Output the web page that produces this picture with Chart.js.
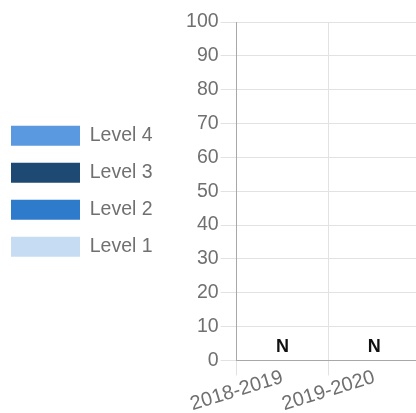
<!DOCTYPE html>
<html>
<head>
<meta charset="utf-8">
<script src="https://cdn.jsdelivr.net/npm/chart.js@4/dist/chart.umd.min.js"></script>
<style>
  html, body { margin: 0; padding: 0; background: #fff; overflow: hidden; }
  #wrap { position: relative; width: 420px; height: 413px; }
</style>
</head>
<body>
<div id="wrap"><canvas id="c"></canvas></div>
<script>
const categories = ['2018-2019', '2019-2020'];
const level1 = [null, null];
const level2 = [null, null];
const level3 = [null, null];
const level4 = [null, null];
const noteLabels = ['N', 'N'];
const yTicks = { min: 0, max: 100, step: 10 };

const textColor = '#707070';
const fontFamily = '"Liberation Sans", Arial, sans-serif';

const nPlugin = {
  id: 'nLabels',
  beforeLayout(chart) {
    const lg = chart.legend;
    if (lg && !lg._wide) {
      const orig = lg.update;
      lg.update = function (maxWidth, maxHeight, margins) {
        return orig.call(this, Math.max(maxWidth, 220), maxHeight, margins);
      };
      lg._wide = true;
    }
  },
  afterDatasetsDraw(chart) {
    const ctx = chart.ctx;
    const x = chart.scales.x, y = chart.scales.y;
    ctx.save();
    ctx.font = 'bold 18px ' + fontFamily;
    ctx.fillStyle = '#111';
    ctx.textAlign = 'center';
    ctx.textBaseline = 'alphabetic';
    noteLabels.forEach((t, i) => {
      ctx.fillText(t, x.getPixelForValue(i), y.getPixelForValue(0) - 8.5);
    });
    ctx.restore();
  }
};

new Chart(document.getElementById('c'), {
  type: 'bar',
  data: {
    labels: categories,
    datasets: [
      { label: 'Level 1', data: level1, backgroundColor: '#c6dcf2' },
      { label: 'Level 2', data: level2, backgroundColor: '#2f7bcb' },
      { label: 'Level 3', data: level3, backgroundColor: '#1d4972' },
      { label: 'Level 4', data: level4, backgroundColor: '#5a98e0' }
    ]
  },
  options: {
    responsive: true,
    maintainAspectRatio: false,
    animation: false,
    layout: { padding: { left: -6, top: 22, right: 0, bottom: 0 } },
    plugins: {
      legend: {
        position: 'left',
        fullSize: false,
        reverse: true,
        labels: {
          boxWidth: 69,
          boxHeight: 20,
          padding: 17,
          color: textColor,
          font: { size: 19.5, family: fontFamily }
        }
      },
      tooltip: { enabled: false }
    },
    scales: {
      x: {
        stacked: true,
        grid: { color: '#e2e2e2', tickLength: 15, offset: true },
        border: { color: '#a8a8a8' },
        ticks: {
          color: textColor,
          font: { size: 20, family: fontFamily },
          minRotation: 17, maxRotation: 17,
          autoSkip: false,
          padding: -10
        },
        afterFit(scale) { scale.height = 52.5; }
      },
      y: {
        stacked: true,
        min: yTicks.min,
        max: yTicks.max,
        grid: { color: '#e2e2e2', tickLength: 16 },
        border: { color: '#a8a8a8' },
        ticks: {
          stepSize: yTicks.step,
          color: textColor,
          font: { size: 19.5, family: fontFamily },
          padding: 2
        },
        afterFit(scale) { scale.width = 74; }
      }
    }
  },
  plugins: [nPlugin]
});
</script>
</body>
</html>
